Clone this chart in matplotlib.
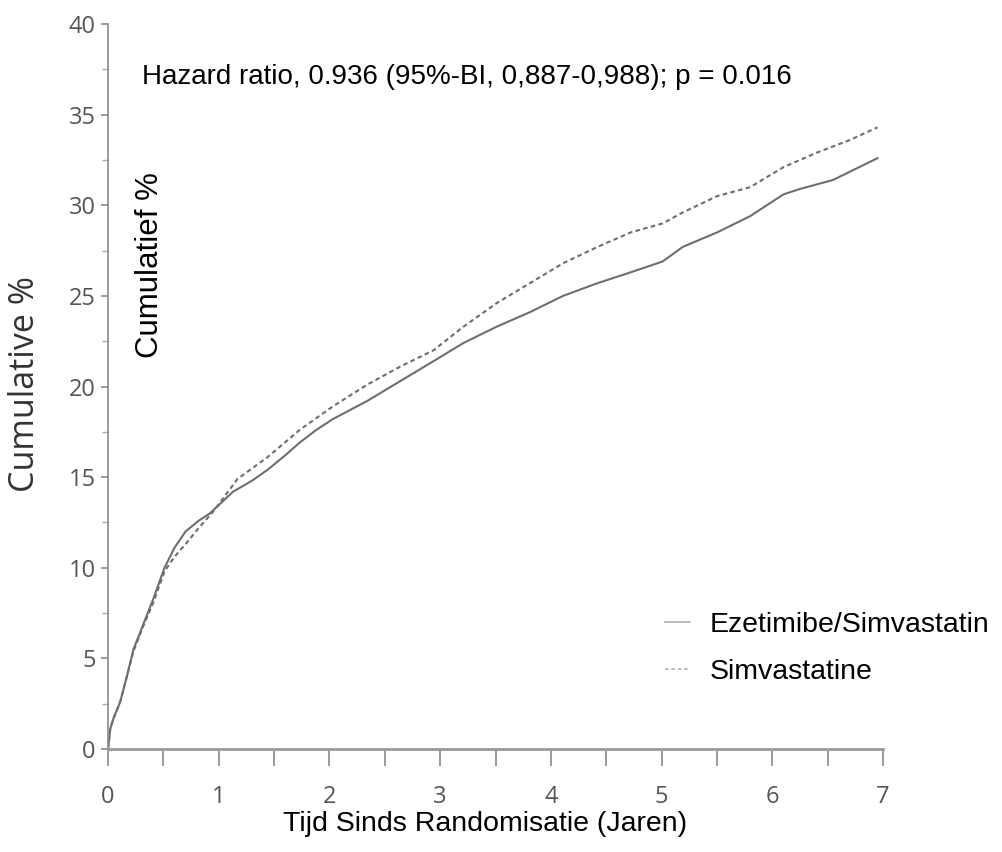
import matplotlib
matplotlib.use("Agg")
import matplotlib.pyplot as plt
from matplotlib.ticker import MultipleLocator

# Values (years, cumulative %)
ezetimibe_x = [0, 0.02, 0.05, 0.11, 0.17, 0.23, 0.32, 0.41, 0.51, 0.60, 0.70, 0.82,
               0.92, 1.06, 1.13, 1.30, 1.44, 1.60, 1.73, 1.88, 2.03, 2.34, 2.64,
               2.94, 3.21, 3.51, 3.81, 4.11, 4.42, 4.72, 5.01, 5.19, 5.50, 5.80,
               6.10, 6.25, 6.55, 6.95]
ezetimibe_y = [0, 1.1, 1.7, 2.6, 4.0, 5.5, 6.9, 8.3, 10.0, 11.1, 12.0, 12.6,
               13.0, 13.8, 14.2, 14.8, 15.4, 16.2, 16.9, 17.6, 18.2, 19.2, 20.3,
               21.4, 22.4, 23.3, 24.1, 25.0, 25.7, 26.3, 26.9, 27.7, 28.5, 29.4,
               30.6, 30.9, 31.4, 32.6]

simva_x = [0, 0.02, 0.05, 0.11, 0.17, 0.23, 0.32, 0.41, 0.51, 0.60, 0.70, 0.82,
           0.95, 1.17, 1.44, 1.73, 2.03, 2.34, 2.64, 2.94, 3.21, 3.51, 3.81,
           4.11, 4.42, 4.72, 5.01, 5.19, 5.50, 5.80, 6.10, 6.40, 6.70, 6.95]
simva_y = [0, 1.1, 1.7, 2.6, 4.0, 5.4, 6.8, 8.1, 9.8, 10.6, 11.3, 12.2,
           13.1, 14.9, 16.1, 17.6, 18.9, 20.1, 21.1, 22.0, 23.3, 24.6, 25.7,
           26.8, 27.7, 28.5, 29.0, 29.6, 30.5, 31.0, 32.1, 32.9, 33.6, 34.3]

series_labels = ["Ezetimibe/Simvastatin", "Simvastatine"]
hazard_text = "Hazard ratio, 0.936 (95%-BI, 0,887-0,988); p = 0.016"

fig = plt.figure(figsize=(10.03, 8.52), dpi=100)
ax = fig.add_axes([0.1077, 0.1209, 0.7727, 0.8509])

line_col = "#6e6e6e"
ax.plot(ezetimibe_x, ezetimibe_y, color=line_col, linewidth=1.5, label=series_labels[0])
ax.plot(simva_x, simva_y, color=line_col, linewidth=1.5, linestyle=(0, (2.2, 1.6)),
        label=series_labels[1])

ax.set_xlim(0, 7)
ax.set_ylim(0, 40)
ax.xaxis.set_major_locator(MultipleLocator(1))
ax.xaxis.set_minor_locator(MultipleLocator(0.5))
ax.yaxis.set_major_locator(MultipleLocator(5))
ax.yaxis.set_minor_locator(MultipleLocator(2.5))

for s in ["top", "right"]:
    ax.spines[s].set_visible(False)
ax.spines["left"].set_color("#8a8a8a")
ax.spines["bottom"].set_color("#9a9a9a")
ax.spines["left"].set_linewidth(1.2)
ax.spines["bottom"].set_linewidth(2.0)

ax.tick_params(axis="x", which="both", length=12, width=1.2, color="#8a8a8a",
               pad=14, labelsize=17, labelcolor="#555555")
ax.tick_params(axis="y", which="major", length=5, width=1.2, color="#8a8a8a",
               pad=4, labelsize=17, labelcolor="#555555")
ax.tick_params(axis="y", which="minor", length=4, width=1.0, color="#aaaaaa")
for lab in ax.get_xticklabels() + ax.get_yticklabels():
    lab.set_family("Open Sans")

ax.set_ylabel("Cumulative %", fontsize=24.5, family="Open Sans", color="#333333")
ax.yaxis.set_label_coords(-0.085, 0.503)
ax.set_xlabel("Tijd Sinds Randomisatie (Jaren)", fontsize=20.5, family="Liberation Sans",
              color="black")
ax.xaxis.set_label_coords(0.486, -0.086)

ax.text(0.38, 26.7, "Cumulatief %", rotation=90, fontsize=22.5, family="Liberation Sans",
        ha="center", va="center", color="black")
ax.text(0.31, 37.1, hazard_text, fontsize=20, family="Liberation Sans",
        ha="left", va="center", color="black")

leg = ax.legend(loc="upper left", bbox_to_anchor=(0.685, 0.225), frameon=False,
                prop={"family": "Liberation Sans", "size": 20.5}, handlelength=0.9,
                handletextpad=0.7, labelspacing=0.75)
for h in leg.get_lines():
    h.set_color("#b0b0b0")
    h.set_linewidth(1.2)

fig.savefig("out.png", dpi=100)
